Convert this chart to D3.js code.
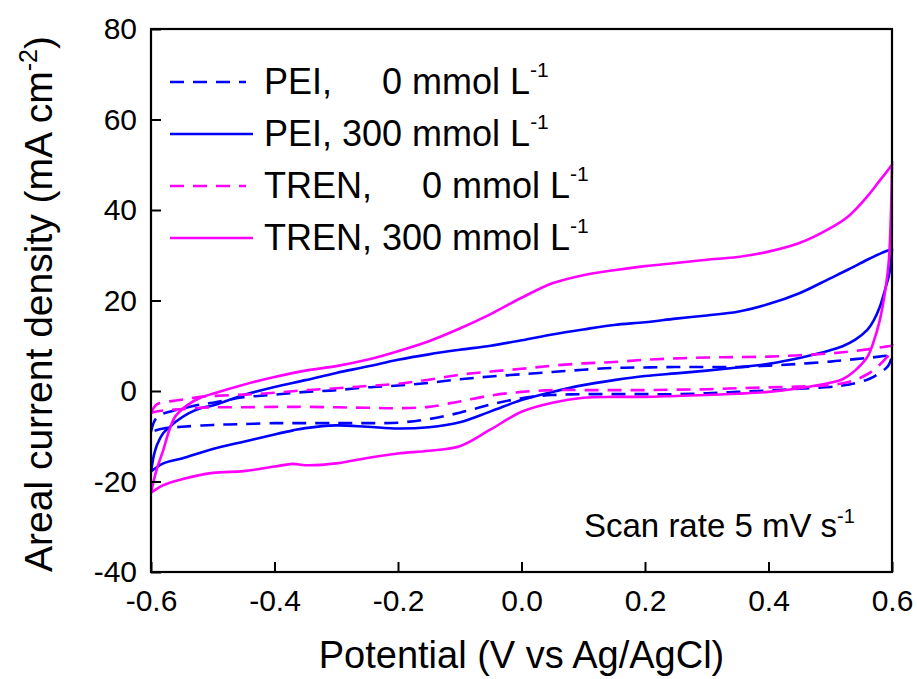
<!DOCTYPE html>
<html lang="en">
  <head>
    <meta charset="utf-8">
    <title>CV curves</title>
    <script src="https://cdn.jsdelivr.net/npm/d3@7"></script>
    <style>
      body { margin: 0; background: #fff; }
      text { font-family: "Liberation Sans", Arial, sans-serif; fill: #000; }
      .legendText { white-space: pre; }
    </style>
  </head>
  <body>
    <div id="chart"></div>
    <script>

      // potential grids (V vs Ag/AgCl): forward (anodic) and reverse (cathodic) sweep
      var vFwd = [-0.6, -0.595, -0.59, -0.58, -0.57, -0.56, -0.54, -0.52, -0.5, -0.45, -0.4, -0.35, -0.3, -0.25, -0.2, -0.15, -0.1, -0.05, 0, 0.05, 0.1, 0.15, 0.2, 0.25, 0.3, 0.35, 0.4, 0.45, 0.5, 0.53, 0.56, 0.58, 0.59, 0.6];
      var vRev = [0.6, 0.598, 0.595, 0.59, 0.58, 0.57, 0.56, 0.54, 0.52, 0.5, 0.45, 0.4, 0.35, 0.3, 0.25, 0.2, 0.15, 0.1, 0.05, 0, -0.05, -0.1, -0.15, -0.2, -0.25, -0.3, -0.35, -0.37, -0.4, -0.45, -0.5, -0.55, -0.58, -0.6];

      // areal current density (mA cm-2)
      var pei0Fwd = [-9, -6.8, -5.8, -5, -4.6, -4.2, -3.6, -3, -2.6, -1.4, -0.8, -0.2, 0.2, 0.8, 1.2, 1.8, 2.6, 3.2, 3.7, 4.2, 4.7, 5.1, 5.2, 5.3, 5.3, 5.3, 5.6, 6, 6.5, 6.9, 7.3, 7.6, 7.8, 8];
      var pei0Rev = [8, 6.8, 5.8, 5, 4, 3.1, 2.5, 1.7, 1.2, 0.9, 0.5, 0.1, -0.2, -0.5, -0.7, -0.7, -0.7, -0.7, -0.9, -1.6, -3, -4.8, -6.2, -7, -7.1, -7.1, -7.1, -7.1, -7.1, -7.3, -7.5, -7.9, -8.3, -9];

      var pei300Fwd = [-17.8, -14, -11.8, -9.3, -8, -6.8, -5, -3.8, -3.2, -0.9, 0.9, 2.4, 4, 5.4, 6.9, 8.1, 9.1, 10, 11.2, 12.5, 13.6, 14.6, 15.2, 16, 16.7, 17.5, 19.2, 21.6, 24.9, 26.9, 29, 30.3, 30.9, 31.3];
      var pei300Rev = [31.3, 28, 25.5, 23, 18.5, 15.5, 13.5, 11.3, 9.9, 9, 7.3, 6, 5.2, 4.5, 3.9, 3.3, 2.4, 1.3, -0.2, -2, -4.5, -6.9, -8, -8.3, -7.9, -7.6, -8.2, -8.7, -9.6, -11.2, -12.8, -14.9, -16, -17.8];

      var tren0Fwd = [-4.8, -3.6, -2.9, -2.5, -2.3, -2.1, -1.7, -1.3, -1.1, -0.8, -0.4, 0.2, 0.6, 1.1, 1.6, 2.5, 3.6, 4.3, 4.9, 5.6, 6.1, 6.4, 6.9, 7.2, 7.4, 7.5, 7.6, 7.9, 8.3, 8.7, 9.2, 9.6, 9.8, 10];
      var tren0Rev = [10, 9, 8, 7.2, 5.8, 4.6, 3.7, 2.4, 1.7, 1.3, 1, 0.8, 0.6, 0.4, 0.3, 0.2, 0.2, 0.2, 0.2, -0.2, -1, -2.3, -3.5, -3.8, -3.7, -3.6, -3.5, -3.5, -3.5, -3.6, -3.6, -4, -4.3, -4.8];

      var tren300Fwd = [-22.5, -19.5, -17, -13, -8.5, -5.5, -3, -1.5, -0.6, 1.4, 3.1, 4.5, 5.5, 6.9, 8.8, 11, 13.8, 17, 20.6, 23.8, 25.6, 26.7, 27.6, 28.3, 29, 29.6, 30.8, 32.7, 36, 38.7, 43, 46.5, 48.2, 50];
      var tren300Rev = [50, 38, 29, 23, 15.5, 10.8, 7.5, 4.5, 2.6, 1.8, 0.6, -0.2, -0.6, -0.9, -1.1, -1.3, -1.3, -1.5, -2.6, -4.6, -8.5, -12.2, -13.2, -13.8, -14.8, -16, -16.4, -16.1, -16.7, -17.7, -18.1, -19.5, -20.8, -22.5];

      var seriesNames = ["PEI,", "PEI,", "TREN,", "TREN,"];
      var concentrations = ["0", "300", "0", "300"];
      var xTicks = [-0.6, -0.4, -0.2, 0.0, 0.2, 0.4, 0.6];
      var yTicks = [-40, -20, 0, 20, 40, 60, 80];

      var width = 917;
      var height = 679;
      var margin = {top: 29, left: 151, right: 25, bottom: 107};

      var svg = d3.select("#chart")
        .append("svg")
        .attr("width", width)
        .attr("height", height);

      var xScale = d3.scaleLinear()
        .domain([-0.6, 0.6])
        .range([margin.left, width - margin.right]);

      var yScale = d3.scaleLinear()
        .domain([-40, 80])
        .range([height - margin.bottom, margin.top]);

      function loop(fwd, rev) {
        var pts = vFwd.map(function(v, i){ return [v, fwd[i]]; });
        return pts.concat(vRev.map(function(v, i){ return [v, rev[i]]; }));
      }

      var series = [
        {data: loop(pei0Fwd, pei0Rev), color: "#0000ff", dash: "14,9"},
        {data: loop(pei300Fwd, pei300Rev), color: "#0000ff", dash: null},
        {data: loop(tren0Fwd, tren0Rev), color: "#ff00ff", dash: "14,9"},
        {data: loop(tren300Fwd, tren300Rev), color: "#ff00ff", dash: null}
      ];

      var line = d3.line()
        .x(function(d){ return xScale(d[0]); })
        .y(function(d){ return yScale(d[1]); })
        .curve(d3.curveCatmullRom.alpha(0.5));

      svg.selectAll(".curve")
        .data(series)
        .enter()
        .append("path")
          .attr("class", "curve")
          .attr("d", function(d){ return line(d.data); })
          .attr("fill", "none")
          .attr("stroke", function(d){ return d.color; })
          .attr("stroke-width", 2.6)
          .attr("stroke-dasharray", function(d){ return d.dash; });

      // plain hyphen for negatives, like the original
      var fmtX = function(d){ return d3.format(".1f")(d).replace("\u2212", "-"); };
      var fmtY = function(d){ return d3.format("d")(d).replace("\u2212", "-"); };

      // axes, ticks inward
      var xAxis = svg.append("g")
        .attr("transform", `translate(0,${height - margin.bottom})`)
        .call(d3.axisBottom(xScale).tickValues(xTicks).tickSizeInner(-10).tickSizeOuter(0).tickPadding(18).tickFormat(fmtX));

      var yAxis = svg.append("g")
        .attr("transform", `translate(${margin.left},0)`)
        .call(d3.axisLeft(yScale).tickValues(yTicks).tickSizeInner(-10).tickSizeOuter(0).tickPadding(14).tickFormat(fmtY));

      svg.selectAll(".tick text")
        .style("font-family", "'Liberation Sans', Arial, sans-serif")
        .style("font-size", "30px")
        .attr("fill", "#000");
      svg.selectAll(".tick line").attr("stroke", "#000").attr("stroke-width", 2);
      svg.selectAll(".domain").remove();

      svg.append("rect")
        .attr("x", margin.left)
        .attr("y", margin.top)
        .attr("width", width - margin.left - margin.right)
        .attr("height", height - margin.top - margin.bottom)
        .attr("fill", "none")
        .attr("stroke", "#000")
        .attr("stroke-width", 2.2);

      // axis titles
      svg.append("text")
        .attr("x", (margin.left + width - margin.right) / 2)
        .attr("y", 668)
        .attr("text-anchor", "middle")
        .style("font-size", "38px")
        .text("Potential (V vs Ag/AgCl)");

      var yLabel = svg.append("text")
        .attr("transform", "translate(52,304) rotate(-90)")
        .attr("text-anchor", "middle")
        .style("font-size", "39px");
      yLabel.append("tspan").text("Areal current density (mA cm");
      yLabel.append("tspan").attr("dy", -15).style("font-size", "25px").text("-2");
      yLabel.append("tspan").attr("dy", 15).text(")");

      // legend
      var legend = svg.append("g");
      series.forEach(function(s, i) {
        var yb = 94 + i * 52;
        legend.append("line")
          .attr("x1", 170).attr("x2", s.dash ? 246 : 253)
          .attr("y1", yb - 12).attr("y2", yb - 12)
          .attr("stroke", s.color)
          .attr("stroke-width", 2.6)
          .attr("stroke-dasharray", s.dash);
        var pad = concentrations[i] === "0" ? "     " : " ";
        var t = legend.append("text")
          .attr("class", "legendText")
          .attr("x", 264)
          .attr("y", yb)
          .style("font-size", "36px");
        t.append("tspan").text(seriesNames[i] + pad + concentrations[i] + " mmol L");
        t.append("tspan").attr("dy", -17).style("font-size", "21px").text("-1");
      });

      var scan = svg.append("text")
        .attr("x", 584)
        .attr("y", 537)
        .style("font-size", "33px");
      scan.append("tspan").text("Scan rate 5 mV s");
      scan.append("tspan").attr("dy", -14).style("font-size", "20px").text("-1");

    </script>
  </body>
</html>
